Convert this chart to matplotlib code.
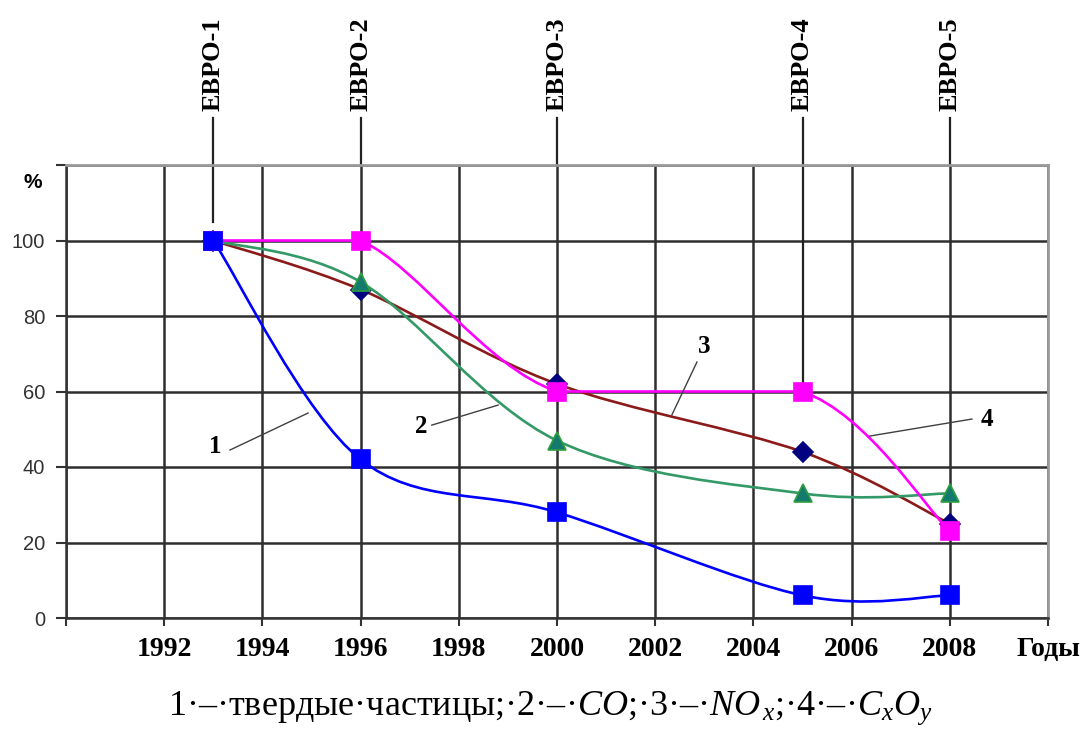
import numpy as np
import matplotlib.pyplot as plt
from matplotlib.path import Path
from matplotlib.patches import PathPatch

plt.rcParams['mathtext.fontset'] = 'custom'
plt.rcParams['mathtext.rm'] = 'Liberation Serif'
plt.rcParams['mathtext.it'] = 'Liberation Serif:italic'

# data
years = [1993, 1996, 2000, 2005, 2008]
solid = [100, 42, 28, 6, 6]       # 1 - твердые частицы
co = [100, 89, 47, 33, 33]        # 2 - CO
nox = [100, 87, 62, 44, 25]       # 3 - NOx
cxoy = [100, 100, 60, 60, 23]     # 4 - CxOy

evro_names = ['ЕВРО-1', 'ЕВРО-2', 'ЕВРО-3', 'ЕВРО-4', 'ЕВРО-5']
evro_years = [1993, 1996, 2000, 2005, 2008]
evro_low = [105, 120, 120, 62, 120]

x_ticks = list(range(1990, 2011, 2))
x_labels = [''] + [str(y) for y in range(1992, 2009, 2)] + ['Годы']
y_ticks = list(range(0, 121, 20))
y_labels = ['0', '20', '40', '60', '80', '100', '']

num_text = ['1', '2', '3', '4']
num_pos = [(1993.03, 45.3), (1997.23, 50.6), (2002.99, 71.8), (2008.76, 52.5)]
lead_a = [(1993.34, 44.5), (1997.45, 51.1), (2002.85, 67.8), (2008.45, 52.7)]
lead_b = [(1994.93, 54.3), (1998.8, 56.4), (2002.34, 53.8), (2006.37, 48.2)]

caption = '1·–·твердые·частицы;·2·–·$CO$;·3·–·$NO_{\\,x}$;·4·–·$C_xO_y$'

serif = 'Liberation Serif'
sans = 'Liberation Sans'


def smooth_path(xs, ys, flat=False):
    # excel-like smoothed line as bezier segments
    pts = np.column_stack([xs, ys]).astype(float)
    ext = np.vstack([pts[0], pts, pts[-1]])
    verts = [pts[0]]
    codes = [Path.MOVETO]
    for i in range(len(pts) - 1):
        p0, p1, p2, p3 = ext[i], ext[i + 1], ext[i + 2], ext[i + 3]
        if flat and p1[1] == p2[1]:
            c1 = p1 + (p2 - p1) / 3
            c2 = p2 - (p2 - p1) / 3
        else:
            c1 = p1 + (p2 - p0) / 6
            c2 = p2 - (p3 - p1) / 6
        verts += [c1, c2, p2]
        codes += [Path.CURVE4] * 3
    return Path(verts, codes)


fig = plt.figure(figsize=(10.92, 7.31), dpi=100)
ax = fig.add_axes([66 / 1092, 1 - 618 / 731, (1048 - 66) / 1092, (618 - 165) / 731])

ax.set_xlim(1990, 2010)
ax.set_ylim(0, 120)
ax.set_xticks(x_ticks)
ax.set_xticklabels(x_labels, fontfamily=serif, fontweight='bold', fontsize=20)
ax.set_yticks(y_ticks)
ax.set_yticklabels(y_labels, fontfamily=sans, fontsize=14.5, color='#333333')
ax.tick_params(axis='x', length=6, width=1.5, color='#333333', pad=8)
ax.tick_params(axis='y', length=7, width=1.5, color='#333333', pad=8)
ax.grid(True, color='#2e2e2e', lw=1.8)
ax.set_axisbelow(True)
for s in ['left', 'bottom']:
    ax.spines[s].set_color('#333333')
    ax.spines[s].set_linewidth(1.8)
for s in ['top', 'right']:
    ax.spines[s].set_color('#9a9a9a')
    ax.spines[s].set_linewidth(2)

# series: line, line colour, marker, marker face, marker edge, size, flat
series = [
    (nox, '#8B1A1A', 'D', '#000080', '#000080', 10, False),
    (co, '#339966', '^', '#157A6E', '#2E9E3E', 13, False),
    (cxoy, '#FF00FF', 's', '#FF00FF', '#FF00FF', 12.5, True),
    (solid, '#0000FF', 's', '#0000FF', '#0000FF', 13, False),
]
for z, (vals, lc, mk, mf, me, ms, flat) in enumerate(series):
    ax.add_patch(PathPatch(smooth_path(years, vals, flat), fill=False,
                           edgecolor=lc, lw=1.9, zorder=3 + z))
    ax.plot(years, vals, ls='none', marker=mk, ms=ms, mfc=mf, mec=me,
            mew=1.2, zorder=3.5 + z)

# EVRO markers above the chart
for name, yr, low in zip(evro_names, evro_years, evro_low):
    ax.plot([yr, yr], [low, 132.5], color='#222222', lw=1.6,
            clip_on=False, zorder=2.5)
    ax.text(yr, 134.3, name, rotation=90, ha='center', va='bottom',
            fontfamily=serif, fontweight='bold', fontsize=19)

# curve numbers with leader lines
for t, p, a, b in zip(num_text, num_pos, lead_a, lead_b):
    ax.plot([a[0], b[0]], [a[1], b[1]], color='#404040', lw=1, zorder=8)
    ax.text(p[0], p[1], t, ha='center', va='center', fontfamily=serif,
            fontweight='bold', fontsize=18, zorder=8)

fig.text(33 / 1092, 1 - 182 / 731, '%', ha='center', va='center',
         fontfamily=sans, fontweight='bold', fontsize=15)
fig.text(550 / 1092, 1 - 715 / 731, caption, ha='center', va='baseline',
         fontfamily=serif, fontsize=26)

fig.savefig('out.png', dpi=100, facecolor='white')
